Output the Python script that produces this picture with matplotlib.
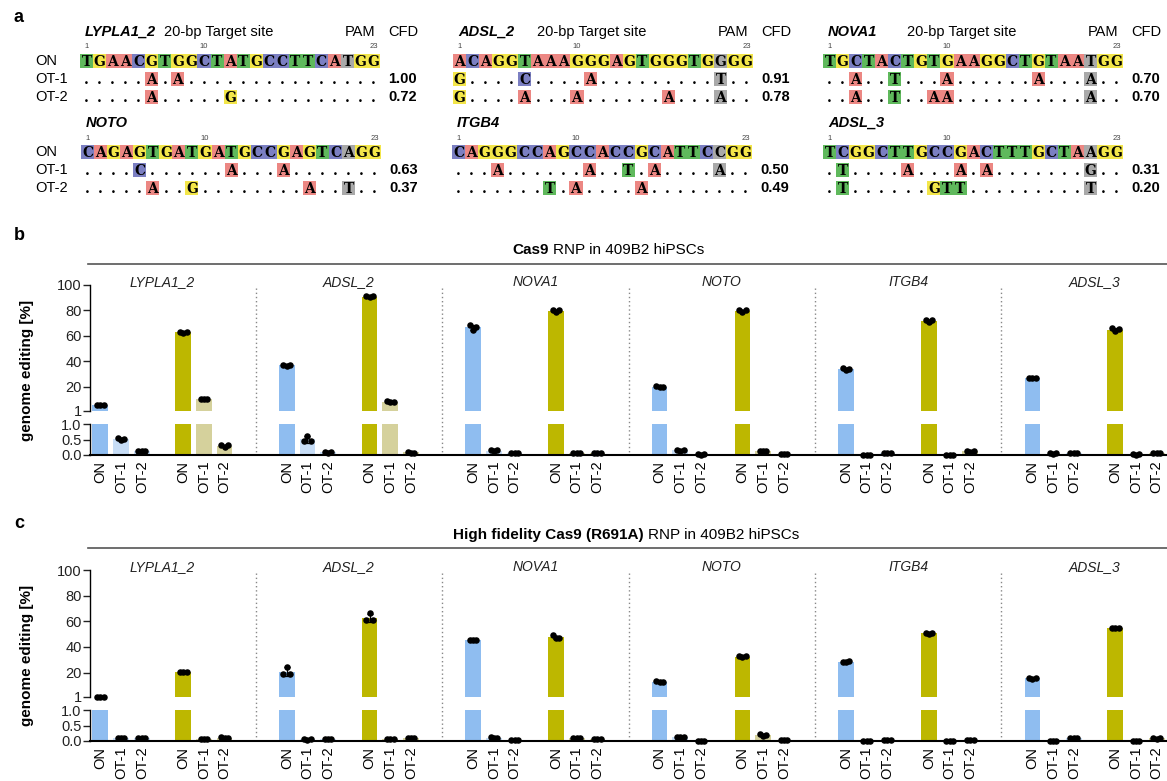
import numpy as np
import matplotlib
matplotlib.use("Agg")
import matplotlib.pyplot as plt
from matplotlib.patches import Rectangle
from matplotlib.transforms import blended_transform_factory

plt.rcParams['font.family'] = ['Liberation Sans', 'DejaVu Sans']

W, H = 1167, 781

genes = ["LYPLA1_2", "ADSL_2", "NOVA1", "NOTO", "ITGB4", "ADSL_3"]
site_labels = ["ON", "OT-1", "OT-2"]

# panel a: target sites and off-targets ('.' = same base as ON)
on_seqs = ["TGAACGTGGCTATGCCTTCATGG", "ACAGGTAAAGGGAGTGGGTGGGG", "TGCTACTGTGAAGGCTGTAATGG",
           "CAGAGTGATGATGCCGAGTCAGG", "CAGGGCCAGCCACCGCATTCCGG", "TCGGCTTGCCGACTTTGCTAAGG"]
ot1_seqs = [".....A.A...............", "G....C....A.........T..", "..A..T...A......A...A..",
            "....C......A...A.......", "...A......A..T.A....A..", ".T....A...A.A.......G.."]
ot2_seqs = [".....A.....G...........", "G....A...A......A...A..", "..A..T..AA..........A..",
            ".....A..G........A..T..", ".......T.A....A........", ".T......GTT.........T.."]
ot1_cfd = ["1.00", "0.91", "0.70", "0.63", "0.50", "0.31"]
ot2_cfd = ["0.72", "0.78", "0.70", "0.37", "0.49", "0.20"]

# panel b: Cas9 RNP, genome editing [%], three replicates per gene
cas9_blue_on = [[6.0, 5.6, 6.1], [37.2, 36.4, 37.0], [68.5, 64.5, 67.0], [20.4, 19.6, 20.2], [34.5, 33.4, 34.3], [27.2, 27.0, 27.3]]
cas9_blue_ot1 = [[0.54, 0.47, 0.53], [0.45, 0.62, 0.44], [0.16, 0.12, 0.15], [0.17, 0.14, 0.16], [0.01, 0.01, 0.01], [0.06, 0.03, 0.05]]
cas9_blue_ot2 = [[0.13, 0.13, 0.13], [0.11, 0.06, 0.10], [0.05, 0.05, 0.05], [0.02, 0.01, 0.02], [0.05, 0.05, 0.05], [0.07, 0.07, 0.07]]
cas9_yel_on = [[63.0, 62.4, 63.2], [91.2, 90.2, 91.0], [80.2, 78.8, 80.0], [80.0, 78.8, 80.2], [72.4, 71.2, 72.5], [66.0, 63.5, 65.5]]
cas9_yel_ot1 = [[10.3, 10.3, 10.3], [8.5, 8.1, 8.4], [0.08, 0.08, 0.08], [0.13, 0.13, 0.13], [0.01, 0.01, 0.01], [0.03, 0.01, 0.02]]
cas9_yel_ot2 = [[0.31, 0.27, 0.32], [0.10, 0.07, 0.08], [0.06, 0.06, 0.06], [0.02, 0.02, 0.02], [0.13, 0.11, 0.13], [0.08, 0.08, 0.08]]

# panel c: high fidelity Cas9 (R691A) RNP
hf_blue_on = [[1.3, 1.3, 1.3], [18.6, 24.5, 19.0], [45.6, 45.3, 45.5], [13.2, 12.6, 13.0], [28.6, 28.3, 28.7], [15.8, 15.0, 15.6]]
hf_blue_ot1 = [[0.09, 0.09, 0.09], [0.06, 0.04, 0.06], [0.12, 0.10, 0.11], [0.14, 0.14, 0.14], [0.01, 0.01, 0.01], [0.01, 0.01, 0.01]]
hf_blue_ot2 = [[0.11, 0.09, 0.10], [0.08, 0.08, 0.08], [0.03, 0.03, 0.03], [0.01, 0.01, 0.01], [0.04, 0.04, 0.04], [0.11, 0.09, 0.10]]
hf_yel_on = [[20.8, 20.6, 20.8], [61.0, 66.5, 61.2], [49.0, 47.0, 46.8], [32.8, 32.0, 32.6], [50.8, 50.4, 50.7], [54.8, 54.4, 54.7]]
hf_yel_ot1 = [[0.07, 0.07, 0.07], [0.07, 0.07, 0.07], [0.10, 0.10, 0.10], [0.21, 0.17, 0.20], [0.01, 0.01, 0.01], [0.01, 0.01, 0.01]]
hf_yel_ot2 = [[0.12, 0.10, 0.11], [0.09, 0.09, 0.09], [0.07, 0.07, 0.07], [0.02, 0.02, 0.02], [0.03, 0.03, 0.03], [0.09, 0.08, 0.09]]

base_colors = {"A": "#ec8783", "C": "#7b7fc2", "G": "#f3e64a", "T": "#5fb95c"}
pam_gray = "#a9a9a9"
bar_colors = ["#8fbdf0", "#c7ddf6", "#c7ddf6", "#bdb700", "#d5d19c", "#d5d19c"]
bar_offsets = [0, 1, 2, 4, 5, 6]

fig = plt.figure(figsize=(W / 100, H / 100), dpi=100)
ax0 = fig.add_axes([0, 0, 1, 1])
ax0.set_xlim(0, W)
ax0.set_ylim(H, 0)
ax0.axis("off")

# ---------------- panel a ----------------
block_x = [80, 453, 823, 81, 452, 823]
row_on_y = [61, 152]
pitch = 13.05
box_h = 14
seq_font = dict(family="DejaVu Serif", fontweight="bold", fontsize=10, ha="center", va="baseline")

for i, gene in enumerate(genes):
    x0 = block_x[i]
    yon = row_on_y[i // 3]
    rows = [on_seqs[i], ot1_seqs[i], ot2_seqs[i]]
    xend = x0 + 23 * pitch
    ax0.text(x0 + 5, yon - 29, gene, fontsize=10.5, fontweight="bold", style="italic", va="center")
    if i < 3:
        ax0.text(x0 + 84, yon - 29, "20-bp Target site", fontsize=10.5, va="center")
        ax0.text(xend - 5, yon - 29, "PAM", fontsize=10.5, va="center", ha="right")
        ax0.text(xend + 8, yon - 29, "CFD", fontsize=10.5, va="center", ha="left")
    for pos in [1, 10, 23]:
        ax0.text(x0 + (pos - 0.5) * pitch, yon - 14, str(pos), fontsize=5.5, color="#444444",
                 ha="center", va="center")
    for r, seq in enumerate(rows):
        y = yon + 18 * r
        if i % 3 == 0:
            ax0.text(35, y, site_labels[r], fontsize=10.5, va="center")
        for j, ch in enumerate(seq):
            xc = x0 + (j + 0.5) * pitch
            if ch == ".":
                ax0.text(xc, y + 5, ".", **seq_font)
                continue
            col = pam_gray if j == 20 else base_colors[ch]
            ax0.add_patch(Rectangle((x0 + j * pitch, y - box_h / 2), pitch, box_h,
                                    facecolor=col, edgecolor="none"))
            ax0.text(xc, y + 5, ch, **seq_font)
    ax0.text(xend + 8, yon + 18, ot1_cfd[i], fontsize=10.5, fontweight="bold", va="center")
    ax0.text(xend + 8, yon + 36, ot2_cfd[i], fontsize=10.5, fontweight="bold", va="center")


# ---------------- panels b and c ----------------
def draw_panel(top_px, one_px, lo_top_px, zero_px, series, bold_title, rest_title, split_x,
               title_y, line_y, label_y):
    left = 90 / W
    width = (W - 90) / W
    ax_t = fig.add_axes([left, (H - one_px) / H, width, (one_px - top_px) / H])
    ax_b = fig.add_axes([left, (H - zero_px) / H, width, (zero_px - lo_top_px) / H], sharex=ax_t)
    for g in range(len(genes)):
        for k, data in enumerate(series):
            reps = np.array(data[g])
            x = g * 9 + bar_offsets[k]
            m = reps.mean()
            sd = reps.std(ddof=1)
            xs = x + np.array([-0.16, 0.0, 0.16])
            for ax in (ax_t, ax_b):
                ax.bar(x, m, width=0.76, color=bar_colors[k], edgecolor="none", zorder=1)
            hi = reps > 1
            if hi.any():
                ax_t.scatter(xs[hi], reps[hi], s=22, color="black", zorder=3, clip_on=False, linewidths=0)
            if (~hi).any():
                ax_b.scatter(xs[~hi], reps[~hi], s=22, color="black", zorder=3, clip_on=False, linewidths=0)
            tgt = ax_t if m > 1 else ax_b
            tgt.errorbar(x, m, yerr=sd, fmt="none", ecolor="black", elinewidth=0.9, capsize=2,
                         capthick=0.9, zorder=2, clip_on=False)
    ax_t.set_xlim(-0.5, 51.5)
    ax_t.set_ylim(1, 100)
    ax_t.set_yticks([1, 20, 40, 60, 80, 100])
    ax_b.set_ylim(0, 1)
    ax_b.set_yticks([0, 0.5, 1.0])
    ax_b.set_yticklabels(["0.0", "0.5", "1.0"])
    for ax in (ax_t, ax_b):
        for s in ["top", "right"]:
            ax.spines[s].set_visible(False)
        ax.spines["left"].set_linewidth(1.0)
        ax.tick_params(axis="y", labelsize=10.5, length=5, width=1, pad=1, colors="#222222")
        ax.patch.set_alpha(0)
    ax_t.spines["bottom"].set_visible(False)
    ax_t.tick_params(axis="x", bottom=False, labelbottom=False)
    ax_b.spines["bottom"].set_linewidth(1.5)
    ticks = [g * 9 + o for g in range(len(genes)) for o in bar_offsets]
    ax_b.set_xticks(ticks)
    ax_b.set_xticklabels(site_labels * 2 * len(genes), rotation=90, fontsize=10.5)
    ax_b.tick_params(axis="x", length=0, pad=4)

    tr = blended_transform_factory(ax_t.transData, ax0.transData)
    for g in range(len(genes)):
        ax0.text(g * 9 + 3, label_y, genes[g], transform=tr, fontsize=10, style="italic",
                 ha="center", va="center", color="#222222")
        if g > 0:
            ax0.plot([g * 9 - 1.5, g * 9 - 1.5], [label_y + 6, zero_px], transform=tr,
                     color="#888888", lw=1, linestyle=(0, (1, 2)), clip_on=False)
    ax0.plot([88, W], [line_y, line_y], color="#555555", lw=1.2)
    ax0.text(split_x, title_y, bold_title, fontsize=11, fontweight="bold", ha="right", va="center")
    ax0.text(split_x + 4, title_y, rest_title, fontsize=11, ha="left", va="center")
    ax0.text(27, (top_px + zero_px) / 2, "genome editing [%]", fontsize=11, fontweight="bold",
             rotation=90, ha="center", va="center")


draw_panel(285, 411, 424, 455,
           [cas9_blue_on, cas9_blue_ot1, cas9_blue_ot2, cas9_yel_on, cas9_yel_ot1, cas9_yel_ot2],
           "Cas9", "RNP in 409B2 hiPSCs", 549, 250, 264, 282)
draw_panel(570, 697, 710, 741,
           [hf_blue_on, hf_blue_ot1, hf_blue_ot2, hf_yel_on, hf_yel_ot1, hf_yel_ot2],
           "High fidelity Cas9 (R691A)", "RNP in 409B2 hiPSCs", 644, 535, 548, 567)

for lab, y in [("a", 22), ("b", 240), ("c", 528)]:
    ax0.text(14, y, lab, fontsize=13, fontweight="bold", va="baseline")

fig.savefig("out.png", dpi=100)
